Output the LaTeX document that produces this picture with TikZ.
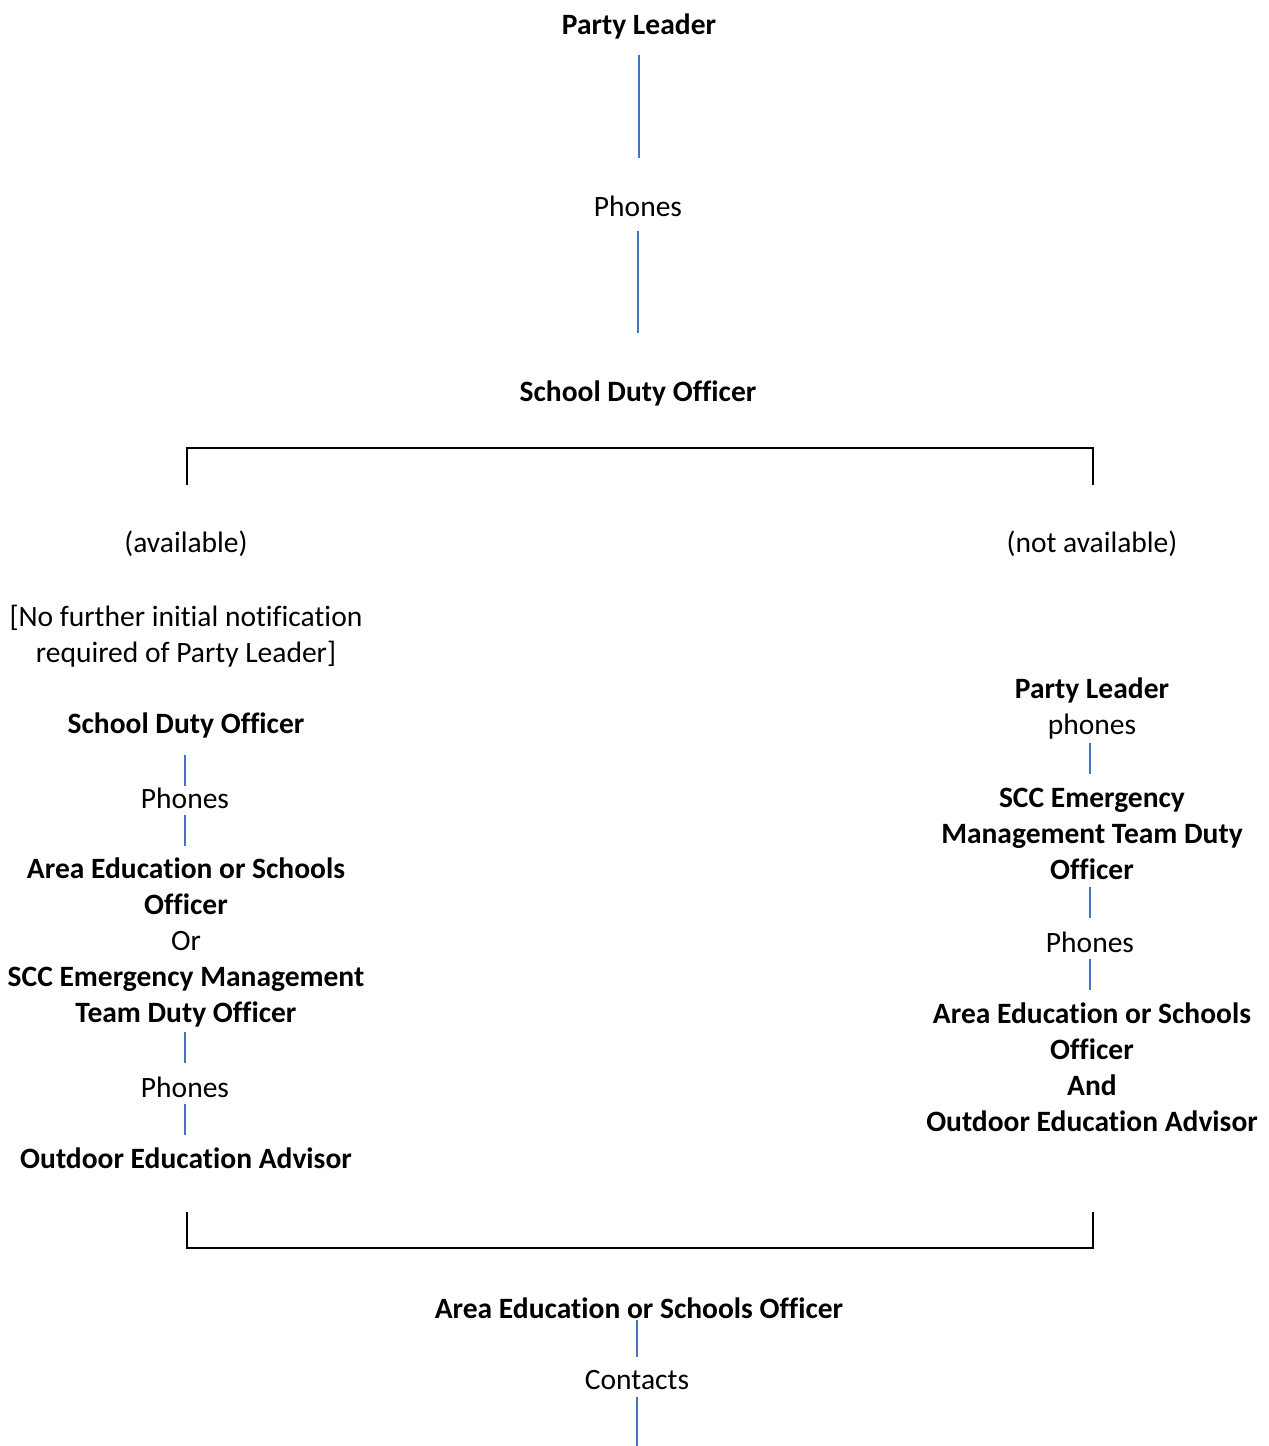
\documentclass[tikz,border=0pt]{standalone}
\usepackage{xcolor}
\usepackage{fontspec}
\setmainfont{Carlito}[Ligatures=NoCommon]
\usepackage{tikz}
\usetikzlibrary{positioning}
\definecolor{linkblue}{HTML}{4472C4}
\definecolor{bracketblack}{HTML}{000000}

\begin{document}
\begin{tikzpicture}[
        x=0.02cm, y=-0.02cm,
        role/.style={align=center, inner sep=0pt, font=\fontsize{16.8}{20.5}\selectfont\bfseries},
        verb/.style={align=center, inner sep=0pt, font=\fontsize{16.8}{20.5}\selectfont},
        link/.style={draw=linkblue, line width=1pt},
        bracket/.style={draw=bracketblack, line width=1.2pt}
    ]
        \useasboundingbox (0,0) rectangle (1268,1446);

        \node[role] (leader) at (639,26) {Party Leader};
        \node[verb] (phonesTop) at (638,206) {Phones};
        \node[role] (dutyTop) at (638,393) {School Duty Officer};
        \draw[link, shorten <=0.58cm, shorten >=0.96cm] (leader.center) -- (leader.center |- phonesTop.center);
        \draw[link, shorten <=0.5cm, shorten >=1.2cm] (phonesTop.center) -- (dutyTop.center);

        \coordinate (splitL) at (187,485);
        \coordinate (splitR) at (1093,485);
        \draw[bracket] (splitL) -- (187,448) -- (1093,448) -- (splitR);

        \node[verb] (avail) at (186,544) {(available)};
        \node[verb] (notAvail) at (1092,544) {(not available)};

        \node[verb] (noFurther) at (186,636) {[No further initial notification\\required of Party Leader]};
        \node[role] (dutyLeft) at (186,725) {School Duty Officer};
        \node[verb] (phonesL1) at (185,798) {Phones};
        \node[verb] (areaOrScc) at (186,942) {\textbf{Area Education or Schools}\\\textbf{Officer}\\Or\\\textbf{SCC Emergency Management}\\\textbf{Team Duty Officer}};
        \node[verb] (phonesL2) at (185,1087) {Phones};
        \node[role] (outdoorL) at (186,1158) {Outdoor Education Advisor};
        \draw[link, shorten <=0.6cm, shorten >=0.24cm] (dutyLeft.center -| phonesL1) -- (phonesL1.center);
        \draw[link, shorten <=0.34cm, shorten >=1.92cm] (phonesL1.center) -- (areaOrScc.center -| phonesL1);
        \draw[link, shorten <=1.8cm, shorten >=0.48cm] (areaOrScc.center -| phonesL2) -- (phonesL2.center);
        \draw[link, shorten <=0.34cm, shorten >=0.46cm] (phonesL2.center) -- (outdoorL.center -| phonesL2);

        \node[verb] (leaderR) at (1092,708.5) {\textbf{Party Leader}\\phones};
        \node[role] (sccR) at (1092,834) {SCC Emergency\\Management Team Duty\\Officer};
        \node[verb] (phonesR) at (1090,942) {Phones};
        \node[role] (areaAndOea) at (1092,1067) {Area Education or Schools\\Officer\\And\\Outdoor Education Advisor};
        \draw[link, shorten <=0.69cm, shorten >=1.2cm] (leaderR.center -| phonesR) -- (sccR.center -| phonesR);
        \draw[link, shorten <=1.06cm, shorten >=0.48cm] (sccR.center -| phonesR) -- (phonesR.center);
        \draw[link, shorten <=0.34cm, shorten >=1.54cm] (phonesR.center) -- (areaAndOea.center -| phonesR);

        \coordinate (joinL) at (187,1212);
        \coordinate (joinR) at (1093,1212);
        \draw[bracket] (joinL) -- (187,1248) -- (1093,1248) -- (joinR);

        \node[role] (areaBottom) at (639,1308) {Area Education or Schools Officer};
        \node[verb] (contacts) at (637,1380) {Contacts};
        \coordinate (contactsEnd) at (637,1446);
        \draw[link, shorten <=0.24cm, shorten >=0.46cm] (areaBottom.center -| contacts) -- (contacts.center);
        \draw[link, shorten <=0.34cm] (contacts.center) -- (contactsEnd);
    \end{tikzpicture}
\end{document}
